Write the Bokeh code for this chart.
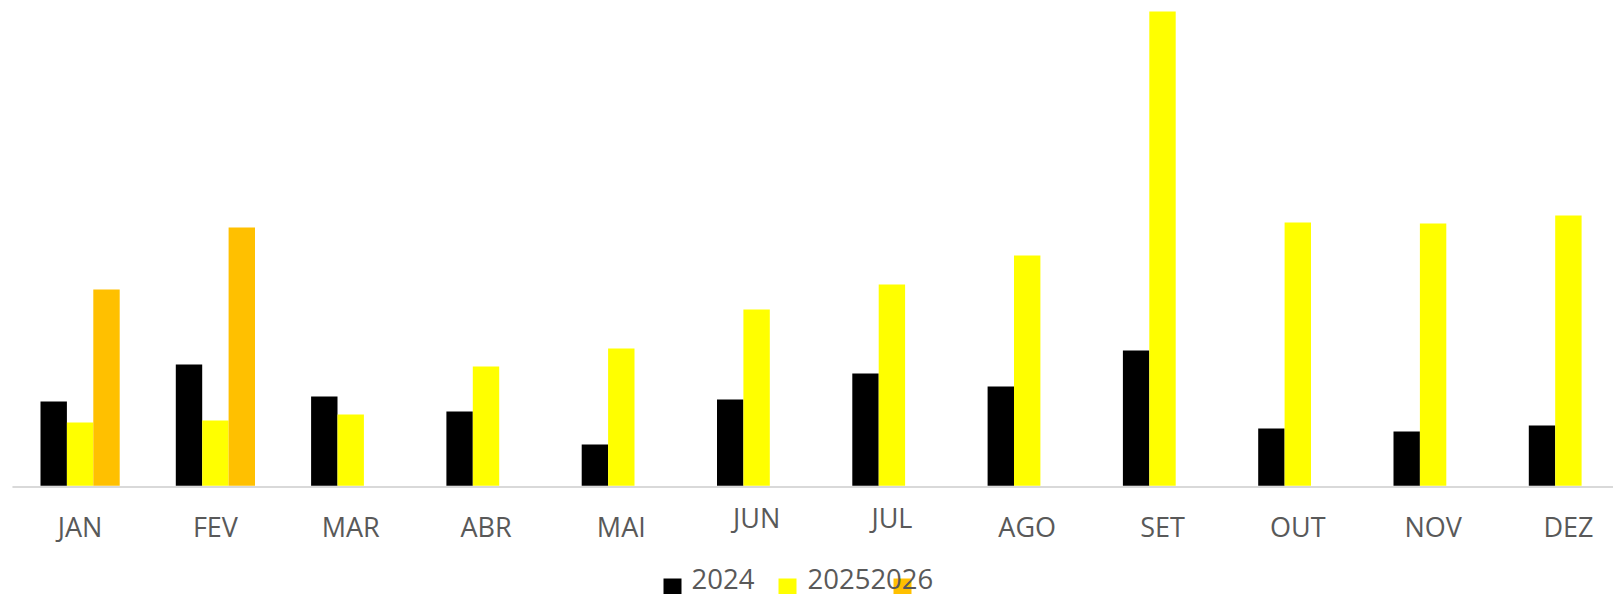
from bokeh.plotting import figure
from bokeh.models import Range1d, ColumnDataSource
from bokeh.core.properties import value
from bokeh.embed import file_html
from bokeh.resources import INLINE

months = ["JAN", "FEV", "MAR", "ABR", "MAI", "JUN", "JUL", "AGO", "SET", "OUT", "NOV", "DEZ"]
s2024 = [84.3, 121.3, 89.3, 74.3, 41.3, 86.3, 112.3, 99.3, 135.3, 57.3, 54.3, 60.3]
s2025 = [63.3, 65.3, 71.3, 119.3, 137.3, 176.3, 201.3, 230.3, 474.3, 263.3, 262.3, 270.3]
s2026 = [196.3, 258.3, None, None, None, None, None, None, None, None, None, None]
series_names = ["2024", "2025", "2026"]
label_lift = [0, 0, 0, 0, 0, 8.5, 8.5, 0, 0, 0, 0, 0]  # JUN/JUL labels sit higher in the original

colors = ["#000000", "#FFFF00", "#FFC000"]
FONT = value("Open Sans")
TXT = "#595959"

# pixel geometry helpers (picture pixels -> data units)
CAT_PX = 135.3
X0_PX = 11.95
BASE_PX = 485.3
def xd(px):
    return (px - X0_PX) / CAT_PX
def yd(py):
    return BASE_PX - py

W, H = 1613, 594
p = figure(width=W, height=H, output_backend="svg", toolbar_location=None,
           x_axis_type=None, y_axis_type=None,
           x_range=Range1d(xd(0), xd(W)), y_range=Range1d(yd(H), yd(0)),
           min_border=0)
p.grid.visible = False
p.outline_line_color = None
p.background_fill_color = "white"
p.border_fill_color = "white"

n = len(months)
centers = [i + 0.5 for i in range(n)]
bw = 26.4 / CAT_PX

# baseline
p.segment(x0=[0], y0=[-1.2], x1=[n + 1], y1=[-1.2], line_color="#D9D9D9", line_width=2)

for k, vals in enumerate([s2024, s2025, s2026]):
    xs, tops = [], []
    for c, v in zip(centers, vals):
        if v is not None:
            xs.append(c + (k - 1) * bw)
            tops.append(v)
    src = ColumnDataSource(dict(x=xs, top=tops))
    p.vbar(x="x", top="top", bottom=0, width=bw, source=src,
           fill_color=colors[k], line_color=None)

# category labels
lab = ColumnDataSource(dict(x=centers, y=[yd(525.5) + l for l in label_lift], t=months))
p.text(x="x", y="y", text="t", source=lab, text_font=FONT, text_font_size="27px",
       text_color=TXT, text_align="center", text_baseline="alphabetic")

# legend (drawn manually to match the original's overlapping layout)
sq = 18
sq_left = [663, 778, 893]
p.quad(left=[xd(a) for a in sq_left], right=[xd(a + sq) for a in sq_left],
       top=[yd(578)] * 3, bottom=[yd(578 + sq)] * 3,
       fill_color=colors, line_color=None)
p.text(x=[xd(691), xd(807)], y=[yd(578)] * 2,
       text=[series_names[0], series_names[1] + series_names[2]],
       text_font=FONT, text_font_size="27.5px", text_color=TXT,
       text_align="left", text_baseline="alphabetic")

open("out.html", "w").write(file_html(p, INLINE))
